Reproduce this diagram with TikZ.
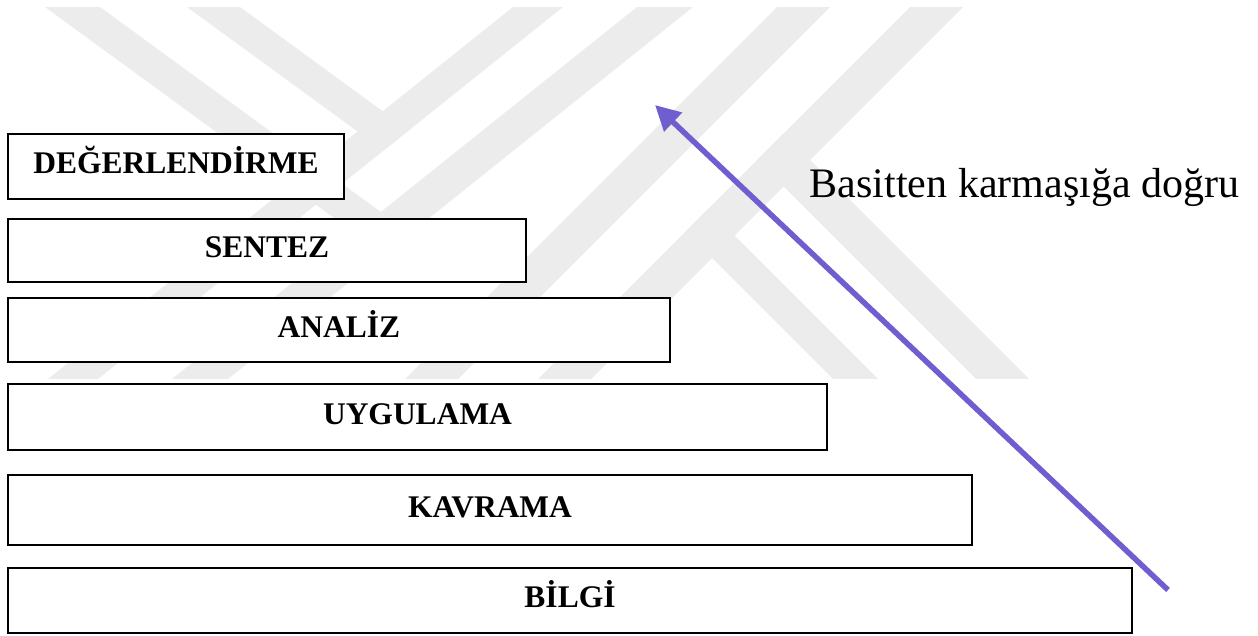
\documentclass[tikz,border=0pt]{standalone}
\usepackage{fontspec}
\setmainfont{Liberation Serif}
\usetikzlibrary{arrows.meta}
\definecolor{wmgray}{RGB}{236,236,236}
\definecolor{arrowblue}{RGB}{110,94,208}
\begin{document}
\begin{tikzpicture}[x=1pt,y=-1pt,
  lvl/.style={draw=black, line width=2.8pt, fill=white, rectangle, inner sep=0pt,
    text height=21pt, text depth=7pt,
    font=\bfseries\fontsize{31.5}{36}\selectfont},
  band/.style={fill=wmgray, draw=none},
  uparrow/.style={line width=5.5pt, draw=arrowblue, -{Triangle[length=25pt,width=25pt]}}]
\useasboundingbox (0,0) rectangle (1258,635);
% watermark
\begin{scope}
\clip (0,7) rectangle (1258,378);
\fill[band] (546.75,-20) -- (596.75,-20) -- (71.75,400) -- (21.75,400) -- cycle;
\fill[band] (670.75,-20) -- (726.75,-20) -- (201.75,400) -- (145.75,400) -- cycle;
\fill[band] (804,-20) -- (857,-20) -- (437,400) -- (384,400) -- cycle;
\fill[band] (937,-20) -- (990,-20) -- (570,400) -- (517,400) -- cycle;
\fill[band] (150,-20) -- (203,-20) -- (408.9,130.3) -- (383.6,150.5) -- cycle;
\fill[band] (8,-20) -- (63,-20) -- (410,233.3) -- (383.8,254.3) -- cycle;
\fill[band] (685.5,231.5) -- (708,209) -- (899,400) -- (854,400) -- cycle;
\fill[band] (757,160) -- (783.5,133.5) -- (1050,400) -- (997,400) -- cycle;
\end{scope}
% levels
\node[lvl, minimum width=336pt, minimum height=65pt] (deg) at (176,166.5) {DEĞERLENDİRME};
\node[lvl, minimum width=518pt, minimum height=63pt] (sen) at (267,250.5) {SENTEZ};
\node[lvl, minimum width=662pt, minimum height=64pt] (ana) at (339,330) {ANALİZ};
\node[lvl, minimum width=819pt, minimum height=66pt] (uyg) at (417.5,417) {UYGULAMA};
\node[lvl, minimum width=964pt, minimum height=70pt] (kav) at (490,510) {KAVRAMA};
\node[lvl, minimum width=1124pt, minimum height=65pt] (bil) at (570,600.5) {BİLGİ};
% arrow
\coordinate (atail) at (1168,590);
\coordinate (ahead) at (655,105);
\draw[uparrow] (atail) -- (ahead);
\node[font=\fontsize{42}{48}\selectfont, anchor=base, inner sep=0pt] (lbl) at (1024.5,197) {Basitten karmaşığa doğru};
\end{tikzpicture}
\end{document}
